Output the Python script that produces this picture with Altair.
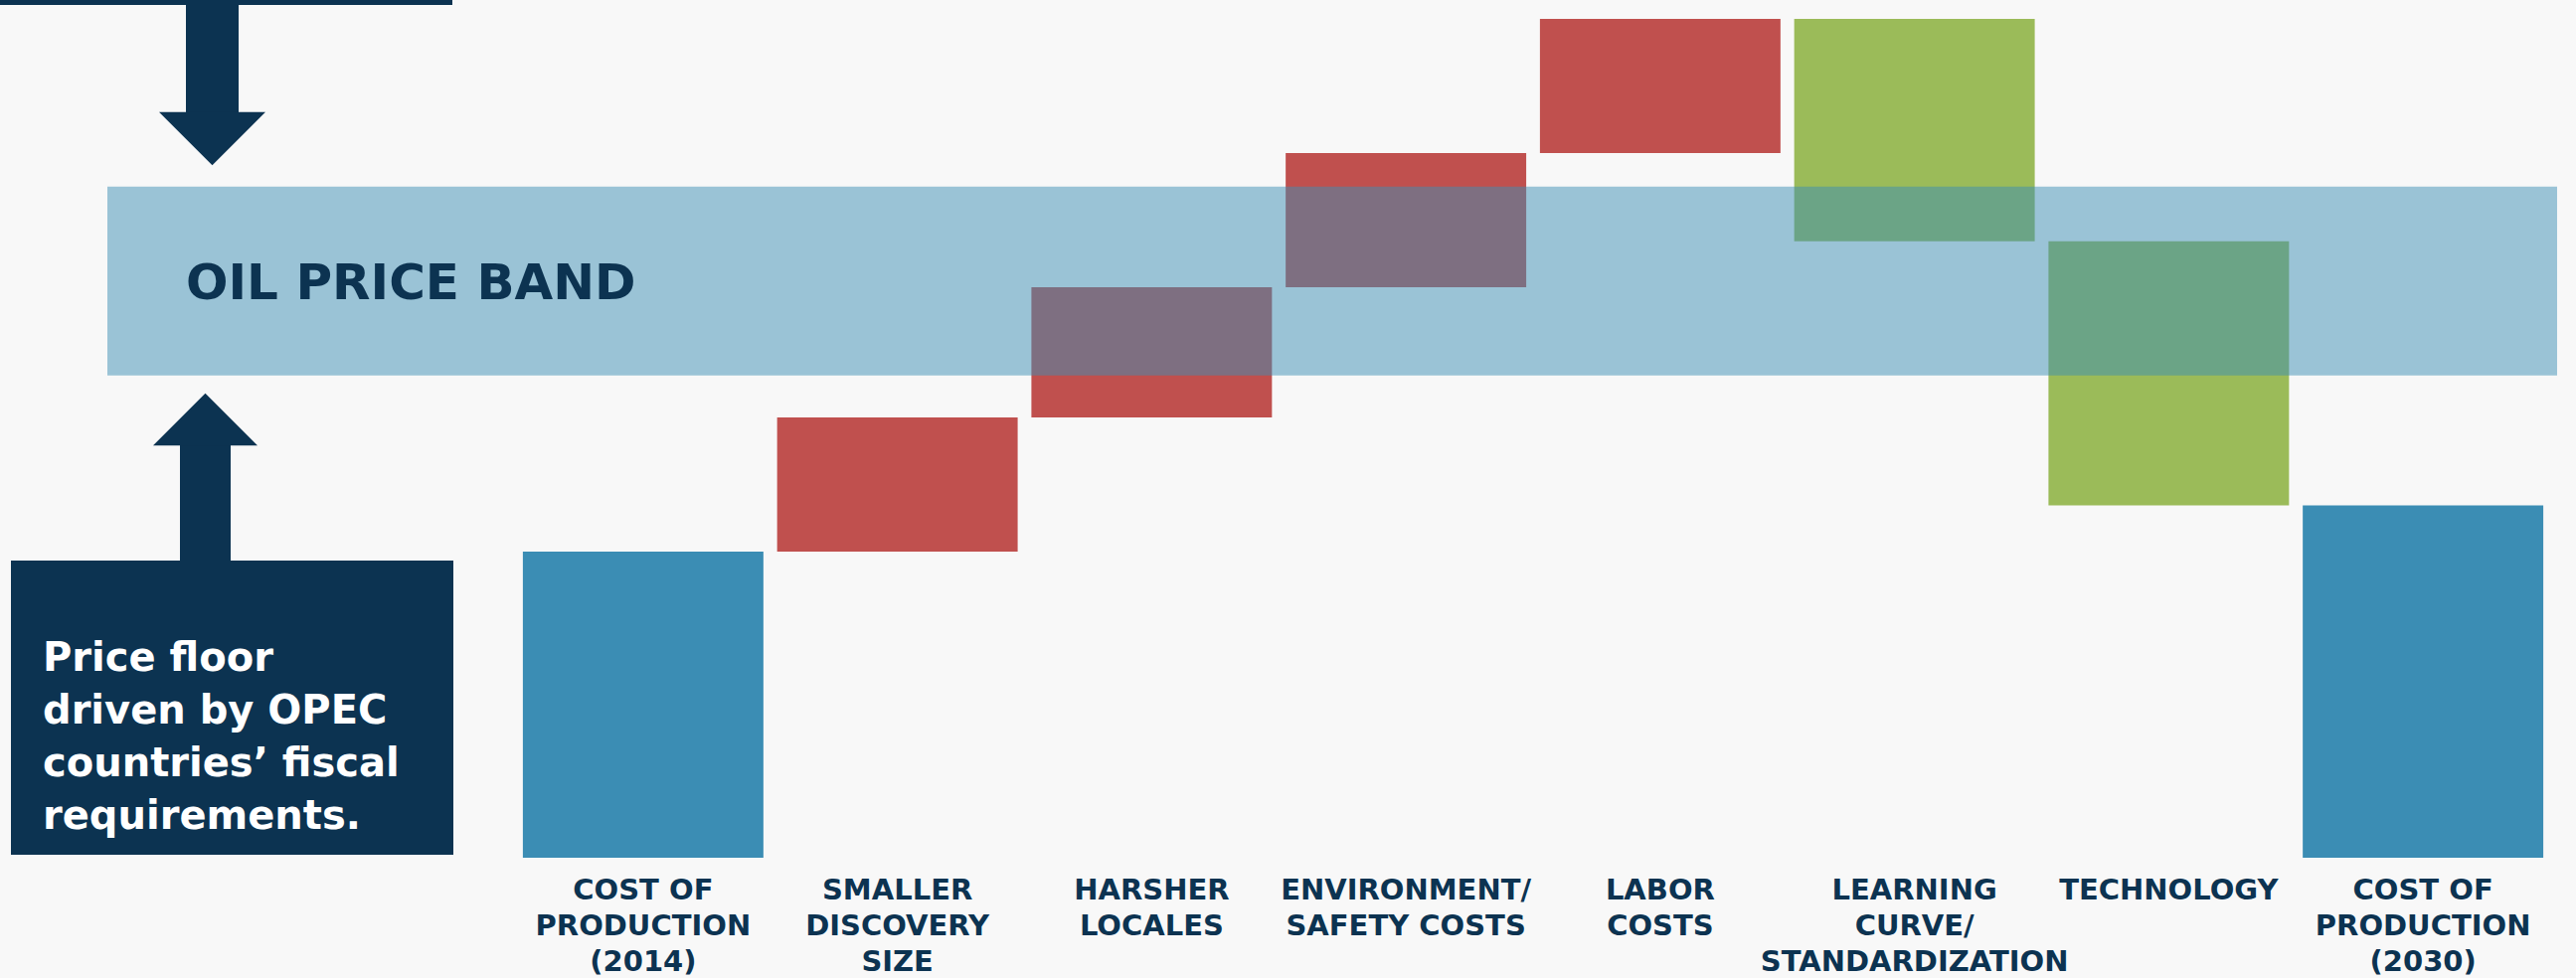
import altair as alt
import pandas as pd

# ---------------- data ----------------
categories = [
    "COST OF\nPRODUCTION\n(2014)",
    "SMALLER\nDISCOVERY\nSIZE",
    "HARSHER\nLOCALES",
    "ENVIRONMENT/\nSAFETY COSTS",
    "LABOR\nCOSTS",
    "LEARNING\nCURVE/\nSTANDARDIZATION",
    "TECHNOLOGY",
    "COST OF\nPRODUCTION\n(2030)",
]
kinds = ["total", "increase", "increase", "increase", "increase", "decrease", "decrease", "total"]
values = [36.5, 16.0, 15.5, 16.0, 16.0, -26.5, -31.5, 42.0]  # totals are levels, others are changes

band_low = [57.5]
band_high = [80.0]
band_label = ["OIL PRICE BAND"]
note_text = ["Price floor\ndriven by OPEC\ncountries\u2019 fiscal\nrequirements."]

# ---------------- waterfall table ----------------
rows = []
running = 0.0
for cat, kind, v in zip(categories, kinds, values):
    if kind == "total":
        start, end = 0.0, v
        running = v
    else:
        start, end = running, running + v
        running = end
    rows.append({"category": cat, "kind": kind, "start": start, "end": end})
df = pd.DataFrame(rows)

band_df = pd.DataFrame({"lo": band_low, "hi": band_high, "label": band_label})
band_df["mid"] = (band_df["lo"] + band_df["hi"]) / 2
note_df = pd.DataFrame({"text": note_text})
one = pd.DataFrame({"k": [0]})

# ---------------- styles ----------------
NAVY = "#0c3351"
BLUE = "#3b8db4"
RED = "#c0504e"
GREEN = "#9bbb59"
FONT = "DejaVu Sans"

yscale = alt.Scale(domain=[0, 102.25], nice=False, zero=False)

bars = alt.Chart(df).mark_bar(cornerRadius=0).encode(
    x=alt.X(
        "category:N",
        sort=categories,
        scale=alt.Scale(range=[519, 2565], paddingInner=0.054, paddingOuter=0.027),
        axis=alt.Axis(
            title=None,
            domain=False,
            ticks=False,
            grid=False,
            labelAngle=0,
            labelExpr="split(datum.label, '\\n')",
            labelFont=FONT,
            labelFontSize=29,
            labelFontWeight="bold",
            labelColor=NAVY,
            labelLineHeight=36,
            labelBaseline="top",
            labelPadding=18,
            labelLimit=0,
            labelOverlap=False,
            labelBound=False,
        ),
    ),
    y=alt.Y("start:Q", scale=yscale, axis=None),
    y2="end:Q",
    color=alt.Color(
        "kind:N",
        scale=alt.Scale(domain=["total", "increase", "decrease"], range=[BLUE, RED, GREEN]),
        legend=None,
    ),
)

band = alt.Chart(band_df).mark_rect(color=BLUE, opacity=0.5).encode(
    x=alt.value(108),
    x2=alt.value(2572),
    y=alt.Y("lo:Q", scale=yscale, axis=None),
    y2="hi:Q",
)

band_text = alt.Chart(band_df).mark_text(
    align="left", baseline="middle", font=FONT, fontSize=50, fontWeight="bold",
    color=NAVY, dy=3,
).encode(
    x=alt.value(187),
    y=alt.Y("mid:Q", scale=yscale, axis=None),
    text="label:N",
)


def rect(x0, x1, y0, y1):
    return alt.Chart(one).mark_rect(color=NAVY).encode(
        x=alt.value(x0), x2=alt.value(x1), y=alt.value(y0), y2=alt.value(y1)
    )


top_box = rect(0, 455, 0, 5)
down_shaft = rect(187, 240, 0, 114)
up_shaft = rect(181, 232, 448, 565)
bottom_box = rect(11, 456, 564, 860)

down_head = alt.Chart(one).mark_point(
    shape="M-1,-0.5L1,-0.5L0,0.5Z", filled=True, color=NAVY, opacity=1, size=107 * 107, strokeWidth=0
).encode(x=alt.value(213.5), y=alt.value(139.5))

up_head = alt.Chart(one).mark_point(
    shape="M-1,0.5L1,0.5L0,-0.5Z", filled=True, color=NAVY, opacity=1, size=105 * 105, strokeWidth=0
).encode(x=alt.value(206.5), y=alt.value(422))

note = alt.Chart(note_df).mark_text(
    align="left", baseline="alphabetic", font=FONT, fontSize=40, fontWeight="bold",
    color="white", lineBreak="\n", lineHeight=53,
).encode(x=alt.value(43), y=alt.value(675), text="text:N")

chart = alt.layer(
    bars, band, band_text, top_box, down_shaft, down_head, up_shaft, up_head, bottom_box, note
).properties(
    width=2591,
    height=863,
    autosize=alt.AutoSizeParams(type="none"),
    padding={"left": 0, "right": 0, "top": 0, "bottom": 121},
    background="#f8f8f8",
).configure_view(stroke=None)

chart.save("out.html", embed_options={"renderer": "svg", "actions": False})
